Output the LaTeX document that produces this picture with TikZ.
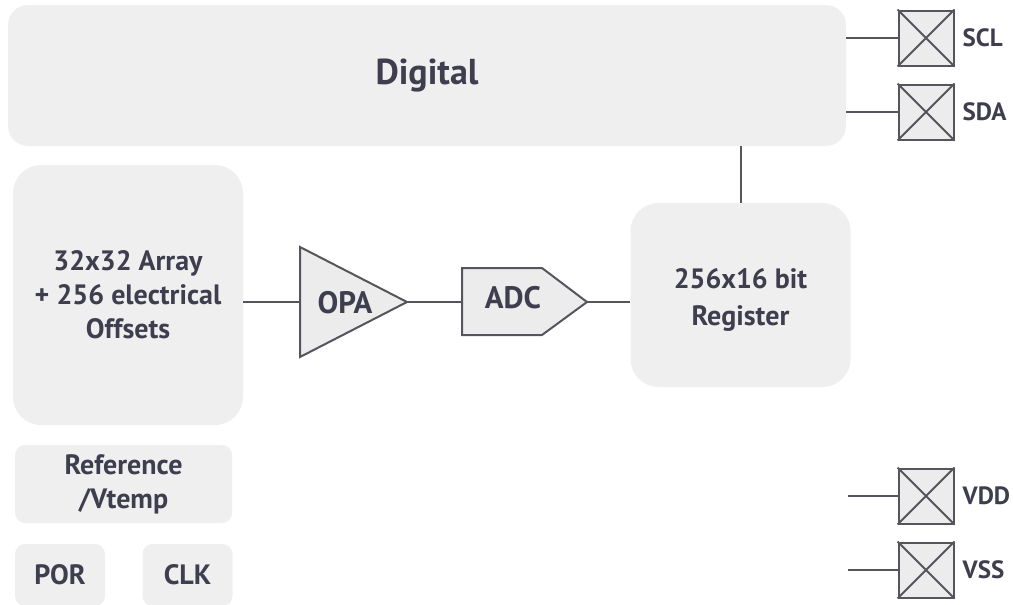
\documentclass[tikz,border=0pt]{standalone}
\usepackage{fontspec}
\setmainfont{PT Sans}
\usepackage{tikz}
\usetikzlibrary{positioning}
\definecolor{blockfill}{HTML}{EFEFEF}
\definecolor{padfill}{HTML}{ECECEC}
\definecolor{wire}{HTML}{55555E}
\definecolor{labeltext}{HTML}{3E3E4E}
% pad with a cross and its pin name
\newcommand{\pinpad}[4]{%
	\node[pad] (#1) at (#2,#3) {};
	\draw[wire] (#1.north west) -- (#1.south east) (#1.north east) -- (#1.south west);
	\node[pinlabel, right=8pt of #1] (#1-name) {#4};
}
\begin{document}
\begin{tikzpicture}[x=1pt,y=-1pt,
		block/.style={fill=blockfill, draw=none, rounded corners=28pt, align=center, text=labeltext, font=\bfseries\fontsize{28}{34}\selectfont},
		smallblock/.style={block, rounded corners=10pt},
		pad/.style={draw=wire, fill=padfill, line width=2pt, minimum size=55pt, inner sep=0pt},
		pinlabel/.style={text=labeltext, font=\bfseries\fontsize{25}{25}\selectfont, inner sep=0pt},
		wire/.style={draw=wire, line width=2pt},
		shapebox/.style={draw=wire, fill=padfill, line width=2pt, line join=miter},
		shapetext/.style={text=labeltext, font=\bfseries\fontsize{31}{31}\selectfont}]
	\useasboundingbox (0,0) rectangle (1013,605);
	\node[block, rounded corners=20pt, minimum width=838pt, minimum height=141pt, font=\bfseries\fontsize{36}{36}\selectfont] (digital) at (427,75.5) {Digital};
	\node[block, minimum width=230pt, minimum height=260pt] (array) at (128,295) {32x32 Array\\+ 256 electrical\\Offsets};
	\node[block, minimum width=220pt, minimum height=184pt, font=\bfseries\fontsize{28}{37}\selectfont] (register) at (740.5,295) {\\[-8pt]256x16 bit\\Register};
	\node[smallblock, minimum width=217pt, minimum height=78pt] (reference) at (123.5,484) {Reference\\/Vtemp};
	\node[smallblock, minimum width=90pt, minimum height=62pt] (por) at (60,575) {POR};
	\node[smallblock, minimum width=90pt, minimum height=62pt] (clk) at (187.5,575) {CLK};

	% amplifier and converter
	\coordinate (opa-in) at (300,302);
	\coordinate (opa-out) at (407,302);
	\coordinate (adc-in) at (462,302);
	\coordinate (adc-out) at (587,302);
	\path[shapebox] (opa-in) -- (300,247) -- (opa-out) -- (300,357) -- cycle;
	\path[shapebox] (adc-in) -- (462,268) -- (542,268) -- (adc-out) -- (542,335) -- (462,335) -- cycle;
	\node[shapetext] (opa) at (345,303) {OPA};
	\node[shapetext] (adc) at (513,298) {ADC};

	\draw[wire] (array.east |- opa-in) -- (opa-in);
	\draw[wire] (opa-out) -- (adc-in);
	\draw[wire] (adc-out) -- (register.west |- adc-out);
	\draw[wire] (register.north) -- (register.north |- digital.south);

	% pads
	\pinpad{scl}{926}{38}{SCL}
	\pinpad{sda}{926}{112}{SDA}
	\pinpad{vdd}{926}{496}{VDD}
	\pinpad{vss}{926}{570}{VSS}
	\coordinate (vdd-end) at (848,496);
	\coordinate (vss-end) at (848,570);
	\draw[wire] (digital.east |- scl) -- (scl.west);
	\draw[wire] (digital.east |- sda) -- (sda.west);
	\draw[wire] (vdd-end) -- (vdd.west);
	\draw[wire] (vss-end) -- (vss.west);
\end{tikzpicture}
\end{document}
